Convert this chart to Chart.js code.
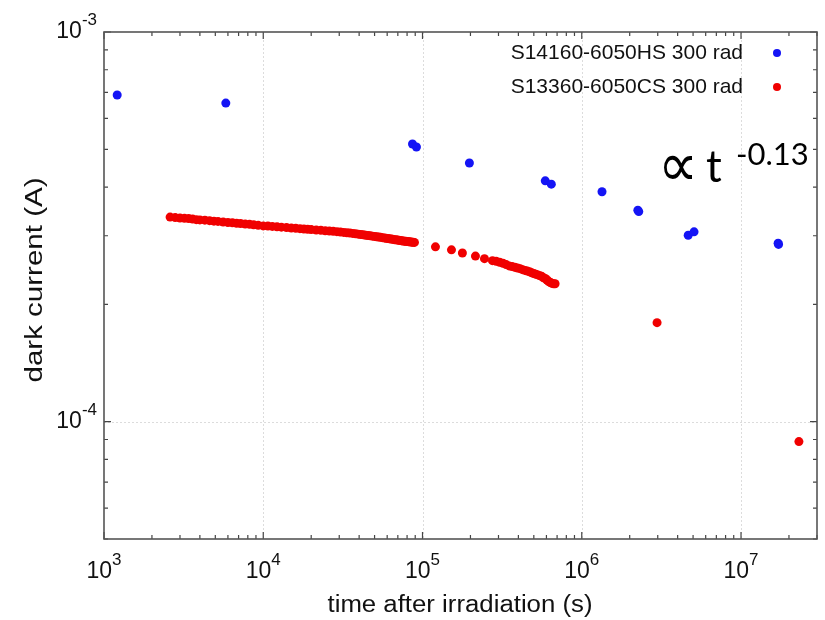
<!DOCTYPE html>
<html>
<head>
<meta charset="utf-8">
<title>dark current after irradiation</title>
<script src="https://cdn.jsdelivr.net/npm/chart.js@4.4.1/dist/chart.umd.min.js"></script>
<style>
  body { margin: 0; background: #fff; }
  canvas { display: block; }
</style>
</head>
<body>
<canvas id="dark-chart" width="825" height="620"></canvas>
<script>
// S14160-6050HS 300 rad (blue)
const hsTime = [1210, 5820, 86500, 91600, 197000, 590000, 644000, 1340000, 2250000, 2280000,
    4660000, 5070000, 17100000, 17200000];
const hsCurrent = [6.89e-4, 6.57e-4, 5.16e-4, 5.07e-4, 4.61e-4, 4.15e-4, 4.07e-4, 3.89e-4, 3.49e-4, 3.46e-4,
    3.01e-4, 3.07e-4, 2.87e-4, 2.85e-4];

// S13360-6050CS 300 rad (red)
const csTime = [2600, 2800, 3000, 3200, 3400, 3600, 3800, 4000, 4300, 4600, 4900, 5200,
    5600, 6000, 6400, 6800, 7200, 7700, 8200, 8700, 9300, 10000, 10700, 11400, 12200,
    13000, 14000, 15000, 16000, 17000, 18000, 19000, 20000, 21500, 23000, 24500, 26000,
    27500, 29000, 30500, 32000, 33500, 35000, 36500, 38000, 39500, 41000, 42500, 44000,
    45500, 47000, 48500, 50000, 51500, 53000, 54500, 56000, 57500, 59000, 60500, 62000,
    63500, 65000, 66500, 68000, 69500, 71000, 72500, 74000, 75500, 77000, 78500, 80000,
    81500, 83000, 84500, 86000, 87500, 89000,
    120600, 152000, 178000, 215000, 245000, 275000,
    290000, 305000, 320000, 335000, 350000, 365000, 380000, 395000, 410000, 425000, 440000,
    455000, 470000, 485000, 500000, 515000, 530000, 545000, 560000, 575000, 590000, 605000,
    620000, 635000, 650000, 665000, 680000,
    2970000, 23100000];
const csCurrent = [3.35e-4, 3.34e-4, 3.33e-4, 3.325e-4, 3.32e-4, 3.31e-4, 3.30e-4, 3.295e-4, 3.29e-4, 3.28e-4, 3.27e-4, 3.265e-4,
    3.255e-4, 3.245e-4, 3.24e-4, 3.23e-4, 3.225e-4, 3.215e-4, 3.21e-4, 3.20e-4, 3.19e-4, 3.18e-4, 3.176e-4, 3.17e-4, 3.163e-4,
    3.156e-4, 3.148e-4, 3.14e-4, 3.135e-4, 3.129e-4, 3.123e-4, 3.117e-4, 3.112e-4, 3.104e-4, 3.098e-4, 3.091e-4, 3.085e-4,
    3.079e-4, 3.074e-4, 3.067e-4, 3.06e-4, 3.054e-4, 3.05e-4, 3.042e-4, 3.035e-4, 3.029e-4, 3.022e-4, 3.017e-4, 3.01e-4,
    3.004e-4, 2.999e-4, 2.993e-4, 2.988e-4, 2.983e-4, 2.977e-4, 2.972e-4, 2.967e-4, 2.962e-4, 2.957e-4, 2.952e-4, 2.947e-4,
    2.942e-4, 2.937e-4, 2.932e-4, 2.929e-4, 2.925e-4, 2.921e-4, 2.917e-4, 2.913e-4, 2.909e-4, 2.906e-4, 2.903e-4, 2.90e-4,
    2.897e-4, 2.894e-4, 2.891e-4, 2.889e-4, 2.887e-4, 2.885e-4,
    2.81e-4, 2.76e-4, 2.71e-4, 2.66e-4, 2.62e-4, 2.59e-4,
    2.58e-4, 2.565e-4, 2.55e-4, 2.53e-4, 2.51e-4, 2.50e-4, 2.49e-4, 2.48e-4, 2.47e-4, 2.455e-4, 2.445e-4,
    2.435e-4, 2.425e-4, 2.41e-4, 2.40e-4, 2.39e-4, 2.38e-4, 2.37e-4, 2.36e-4, 2.34e-4, 2.33e-4, 2.31e-4,
    2.29e-4, 2.275e-4, 2.265e-4, 2.26e-4, 2.26e-4,
    1.795e-4, 8.89e-5];

const seriesNames = ['S14160-6050HS 300 rad', 'S13360-6050CS 300 rad'];
const seriesColors = ['rgb(20,20,245)', 'rgb(240,0,0)'];
const xDecades = [1e3, 1e4, 1e5, 1e6, 1e7];
const xTickLabels = ['3', '4', '5', '6', '7'];
const yDecades = [1e-4, 1e-3];
const yTickLabels = ['-4', '-3'];
const xTitle = 'time after irradiation (s)';
const yTitle = 'dark current (A)';
const fitSymbol = '\u221D';
const fitVar = 't';
const fitExponent = '-0.13';

const textFont = '"Liberation Sans", Arial, sans-serif';

function toPoints(xs, ys) {
    return xs.map((x, i) => ({ x: x, y: ys[i] }));
}

// text squeezed/stretched to a given width
function fitText(ctx, text, x, y, font, width, angle) {
    ctx.save();
    ctx.translate(x, y);
    ctx.rotate(angle || 0);
    ctx.font = font;
    const w = ctx.measureText(text).width;
    ctx.scale(width / w, 1);
    ctx.textAlign = 'center';
    ctx.textBaseline = 'alphabetic';
    ctx.fillText(text, 0, 0);
    ctx.restore();
}

// "10" with a superscript exponent
function drawPower(ctx, exp, x, y, align) {
    ctx.font = '23px ' + textFont;
    const wb = ctx.measureText('10').width;
    ctx.font = '17px ' + textFont;
    const we = ctx.measureText(exp).width;
    const start = align === 'right' ? x - wb - we : x - (wb + we) / 2;
    ctx.textAlign = 'left';
    ctx.textBaseline = 'alphabetic';
    ctx.font = '23px ' + textFont;
    ctx.fillText('10', start, y);
    ctx.font = '17px ' + textFont;
    ctx.fillText(exp, start + wb, y - 13);
}

function minorValues(scale, lo, hi) {
    const vals = [];
    for (let d = lo; d <= hi * 1.0001; d *= 10) {
        for (let k = 1; k <= 9; k++) {
            const v = k * d;
            if (v >= scale.min * 0.9999 && v <= scale.max * 1.0001) vals.push({ v: v, major: k === 1 });
        }
    }
    return vals;
}

const framePlugin = {
    id: 'frame',
    beforeDraw(chart) {
        const ctx = chart.ctx;
        ctx.save();
        ctx.fillStyle = '#fff';
        ctx.fillRect(0, 0, chart.width, chart.height);
        ctx.restore();
    },
    beforeDatasetsDraw(chart) {
        const { ctx, chartArea: a, scales } = chart;
        ctx.save();
        ctx.strokeStyle = '#dcdcdc';
        ctx.lineWidth = 1;
        ctx.setLineDash([2, 2]);
        xDecades.forEach(v => {
            const px = Math.round(scales.x.getPixelForValue(v)) + 0.5;
            if (px <= a.left + 1 || px >= a.right - 1) return;
            ctx.beginPath(); ctx.moveTo(px, a.top); ctx.lineTo(px, a.bottom); ctx.stroke();
        });
        yDecades.forEach(v => {
            const py = Math.round(scales.y.getPixelForValue(v)) + 0.5;
            if (py <= a.top + 1 || py >= a.bottom - 1) return;
            ctx.beginPath(); ctx.moveTo(a.left, py); ctx.lineTo(a.right, py); ctx.stroke();
        });
        ctx.restore();
    },
    afterDatasetsDraw(chart) {
        const { ctx, chartArea: a, scales } = chart;
        ctx.save();

        // inward ticks on all four sides
        ctx.strokeStyle = '#444';
        ctx.lineWidth = 1.2;
        minorValues(scales.x, 1e3, 1e7).forEach(t => {
            const px = scales.x.getPixelForValue(t.v);
            const len = t.major ? 7 : 4;
            ctx.beginPath();
            ctx.moveTo(px, a.bottom); ctx.lineTo(px, a.bottom - len);
            ctx.moveTo(px, a.top); ctx.lineTo(px, a.top + len);
            ctx.stroke();
        });
        minorValues(scales.y, 1e-5, 1e-3).forEach(t => {
            const py = scales.y.getPixelForValue(t.v);
            const len = t.major ? 7 : 4;
            ctx.beginPath();
            ctx.moveTo(a.left, py); ctx.lineTo(a.left + len, py);
            ctx.moveTo(a.right, py); ctx.lineTo(a.right - len, py);
            ctx.stroke();
        });

        // box
        ctx.strokeStyle = '#555';
        ctx.lineWidth = 1.6;
        ctx.strokeRect(a.left, a.top, a.right - a.left, a.bottom - a.top);

        // tick labels
        ctx.fillStyle = '#111';
        xDecades.forEach((v, i) => {
            drawPower(ctx, xTickLabels[i], scales.x.getPixelForValue(v), a.bottom + 39, 'center');
        });
        yDecades.forEach((v, i) => {
            drawPower(ctx, yTickLabels[i], a.left - 7, scales.y.getPixelForValue(v) + 6, 'right');
        });

        // axis titles
        fitText(ctx, xTitle, 460, 612, '23px ' + textFont, 265, 0);
        fitText(ctx, yTitle, 42, 280, '23px ' + textFont, 205, -Math.PI / 2);

        // legend, top right inside the box
        ctx.font = '21px ' + textFont;
        ctx.textAlign = 'right';
        ctx.textBaseline = 'middle';
        seriesNames.forEach((name, i) => {
            const y = 53 + i * 34;
            ctx.fillStyle = '#111';
            ctx.fillText(name, 743, y);
            ctx.fillStyle = seriesColors[i];
            ctx.beginPath();
            ctx.arc(777, y, 4, 0, Math.PI * 2);
            ctx.fill();
        });

        // power law note
        ctx.fillStyle = '#000';
        fitText(ctx, fitSymbol, 678, 186, '62px "DejaVu Sans", sans-serif', 40, 0);
        ctx.textAlign = 'left';
        ctx.textBaseline = 'alphabetic';
        ctx.font = '44px Lato, "Open Sans", sans-serif';
        ctx.fillText(fitVar, 706, 182);
        ctx.font = '31px Lato, "Open Sans", sans-serif';
        ctx.fillText(fitExponent, 736, 165);

        ctx.restore();
    }
};

const ctx = document.getElementById('dark-chart').getContext('2d');
const chart = new Chart(ctx, {
    type: 'scatter',
    data: {
        datasets: [{
            label: seriesNames[0],
            data: toPoints(hsTime, hsCurrent),
            backgroundColor: seriesColors[0],
            borderWidth: 0,
            pointRadius: 4.5
        }, {
            label: seriesNames[1],
            data: toPoints(csTime, csCurrent),
            backgroundColor: seriesColors[1],
            borderWidth: 0,
            pointRadius: 4.5
        }]
    },
    options: {
        responsive: false,
        animation: false,
        layout: { autoPadding: false, padding: { left: 104, top: 32, right: 8, bottom: 81 } },
        plugins: { legend: { display: false }, tooltip: { enabled: false } },
        scales: {
            x: {
                type: 'logarithmic',
                min: 1000,
                max: 3e7,
                grid: { display: false },
                border: { display: false },
                ticks: { display: false },
                afterFit: s => { s.height = 0; }
            },
            y: {
                type: 'logarithmic',
                min: 5e-5,
                max: 1e-3,
                grid: { display: false },
                border: { display: false },
                ticks: { display: false },
                afterFit: s => { s.width = 0; }
            }
        }
    },
    plugins: [framePlugin]
});
</script>
</body>
</html>
